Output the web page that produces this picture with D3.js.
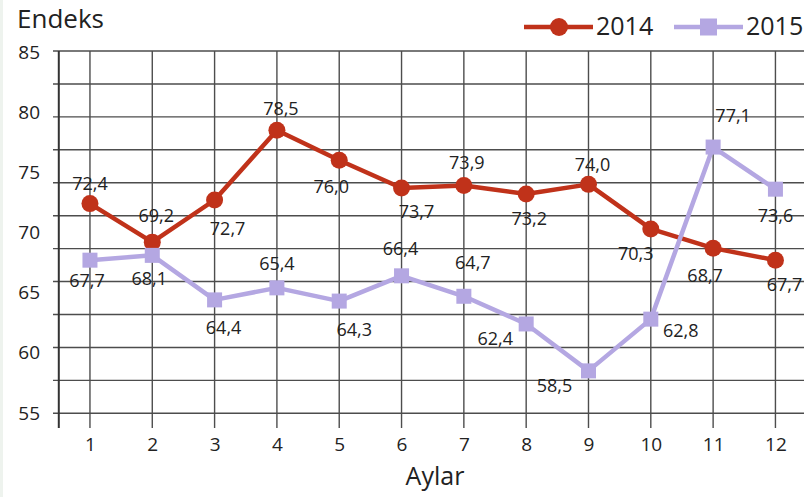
<!DOCTYPE html>
<html><head><meta charset="utf-8">
<script src="https://cdn.jsdelivr.net/npm/d3@7"></script>
<style>
html,body{margin:0;padding:0;background:#fff;}
text{font-family:"Open Sans",sans-serif;fill:#222;}
</style></head>
<body><svg id="c" width="804" height="497"></svg>
<script>
const months = [1,2,3,4,5,6,7,8,9,10,11,12];
const series2014 = [72.4,69.2,72.7,78.5,76.0,73.7,73.9,73.2,74.0,70.3,68.7,67.7];
const series2015 = [67.7,68.1,64.4,65.4,64.3,66.4,64.7,62.4,58.5,62.8,77.1,73.6];
const yTicks = [55,60,65,70,75,80,85];
const seriesNames = ["2014","2015"];
const yTitle = "Endeks";
const xTitle = "Aylar";

// label placement offsets (px) relative to each point
const off2014 = [[0,-20],[4,-26],[13,29],[4,-22],[-8,26],[15,24],[3,-23],[3,25],[4,-20],[-15,25],[-8,28],[9,25]];
const off2015 = [[-3,21],[-3,23],[9,28],[0,-24],[15,29],[-1,-27],[9,-34],[-31,15],[-34,15],[30,12],[20,-31],[0,27]];

const svg = d3.select("#c");
const fmt = v => v.toFixed(1).replace(".", ",");
const c2014 = "#C0321A", c2015 = "#B4A7E2", gridC = "#4d4d4d";

const x = d3.scaleLinear().domain([0.5, 12.5]).range([58.8, 806.6]);
const y = d3.scaleLinear().domain([55, 85]).range([413, 52]);

svg.append("rect").attr("x",0).attr("y",0).attr("width",3).attr("height",497).attr("fill","#eef3ee");

// horizontal gridlines: 12 evenly spaced lines across the value range
const gridVals = d3.range(12).map(i => 85 - i * 30 / 11);
const yGrid = d3.scaleLinear().domain([55, 85]).range([413.3, 51]);
svg.append("g").selectAll("line").data(gridVals).join("line")
  .attr("x1", 53).attr("x2", 804)
  .attr("y1", d => yGrid(d)).attr("y2", d => yGrid(d))
  .attr("stroke", gridC).attr("stroke-width", 1.4);

// vertical gridlines
svg.append("g").selectAll("line").data(months).join("line")
  .attr("x1", d => x(d)).attr("x2", d => x(d))
  .attr("y1", 51).attr("y2", 428)
  .attr("stroke", gridC).attr("stroke-width", 1.4);

// left axis line
svg.append("line").attr("x1", x(0.5)).attr("x2", x(0.5)).attr("y1", 51).attr("y2", 428)
  .attr("stroke", "#333").attr("stroke-width", 2);

// y tick labels
const ya = svg.append("g").attr("transform","translate(40,0)")
  .call(d3.axisLeft(y).tickValues(yTicks).tickSize(0).tickPadding(0).tickFormat(d => d));
ya.select(".domain").remove();
ya.selectAll("text").attr("font-size", 19).attr("font-family", '"Open Sans",sans-serif').attr("fill","#222");

// x tick labels
const xa = svg.append("g").attr("transform","translate(0,428)")
  .call(d3.axisBottom(x).tickValues(months).tickSize(0).tickPadding(10).tickFormat(d => d));
xa.select(".domain").remove();
xa.selectAll("text").attr("font-size", 19).attr("font-family", '"Open Sans",sans-serif').attr("fill","#222");

// titles
svg.append("text").attr("x", 17).attr("y", 28).attr("font-size", 26).text(yTitle);
svg.append("text").attr("x", 435).attr("y", 485).attr("text-anchor","middle").attr("font-size", 25).text(xTitle);

const line = d3.line().x((d,i) => x(months[i])).y(d => y(d));

function drawSeries(vals, color, shape, offs) {
  const g = svg.append("g");
  g.append("path").datum(vals).attr("d", line).attr("fill","none")
    .attr("stroke", color).attr("stroke-width", 4.5).attr("stroke-linejoin","round");
  if (shape === "circle") {
    g.selectAll("circle").data(vals).join("circle")
      .attr("cx", (d,i) => x(months[i])).attr("cy", d => y(d)).attr("r", 8.5).attr("fill", color);
  } else {
    g.selectAll("rect").data(vals).join("rect")
      .attr("x", (d,i) => x(months[i]) - 7.5).attr("y", d => y(d) - 7.5)
      .attr("width", 15).attr("height", 15).attr("fill", color);
  }
  g.selectAll("text").data(vals).join("text")
    .attr("x", (d,i) => x(months[i]) + offs[i][0])
    .attr("y", (d,i) => y(d) + offs[i][1])
    .attr("dy", "0.35em").attr("text-anchor","middle").attr("font-size", 18)
    .text(d => fmt(d));
}
drawSeries(series2014, c2014, "circle", off2014);
drawSeries(series2015, c2015, "square", off2015);

// legend
const lg = svg.append("g");
lg.append("line").attr("x1",524).attr("x2",593).attr("y1",27).attr("y2",27).attr("stroke",c2014).attr("stroke-width",4.5);
lg.append("circle").attr("cx",559).attr("cy",27).attr("r",9).attr("fill",c2014);
lg.append("text").attr("x",596).attr("y",35).attr("font-size",25).text(seriesNames[0]);
lg.append("line").attr("x1",674).attr("x2",743).attr("y1",27).attr("y2",27).attr("stroke",c2015).attr("stroke-width",4.5);
lg.append("rect").attr("x",700).attr("y",18.5).attr("width",17).attr("height",17).attr("fill",c2015);
lg.append("text").attr("x",746).attr("y",35).attr("font-size",25).text(seriesNames[1]);
</script></body></html>
